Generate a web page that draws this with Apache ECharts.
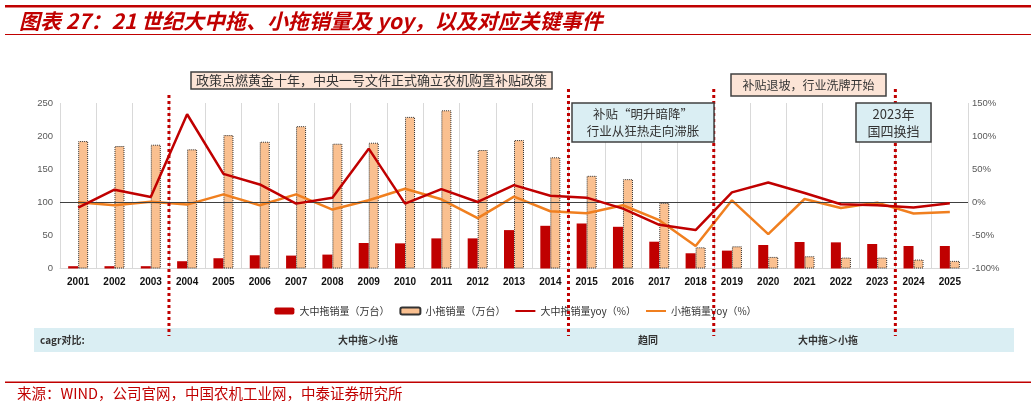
<!DOCTYPE html>
<html><head><meta charset="utf-8">
<script src="https://cdn.jsdelivr.net/npm/echarts@6/dist/echarts.min.js"></script>
<style>html,body{margin:0;padding:0;background:#fff}#c{width:1031px;height:405px}</style>
</head><body><div id="c"></div>
<script>
const years = ['2001','2002','2003','2004','2005','2006','2007','2008','2009','2010','2011','2012','2013','2014','2015','2016','2017','2018','2019','2020','2021','2022','2023','2024','2025'];
const bigSales = [3.5,3.5,3.5,11,15.5,20,19.5,21,38.5,38,45.5,45.5,58,64.5,68,63,40.5,23,27,35.5,40,39.5,37,34,34];
const smallSales = [192.5,185,187,180,201.5,191.5,215,188.5,190,229,239,179,194,168,140,135,99,32,33.5,17.5,18.5,16.5,16.5,13.5,11.5];
const bigYoy = [-8,19,8,133,43,27,-2,7,81,-2,20,0.5,26,10,7,-9.5,-34,-42,15,30,14,-3,-4.5,-8,-1.5];
const smallYoy = [0,-4.5,1,-3.5,12,-4.5,12,-11,3,20.5,4.5,-24,8.5,-13.5,-16.5,-4.5,-27,-66,3,-48,5,-8.5,-0.5,-17,-14.5];
const leftTicks = {min:0, max:250, interval:50};
const rightTicks = {min:-100, max:150, interval:50};
const eventBefore = ['2004','2015','2019','2024'];
const names = ['大中拖销量（万台）','小拖销量（万台）','大中拖销量yoy（%）','小拖销量yoy（%）'];
const titleText = '图表 27：21 世纪大中拖、小拖销量及 yoy，以及对应关键事件';
const sourceText = '来源：WIND，公司官网，中国农机工业网，中泰证券研究所';

const RED = '#C00000', ORANGE = '#F07F1F', PEACH = '#FAC090';
const CJK = "'Noto Sans CJK SC', 'Liberation Sans', sans-serif";
const LINE_ICON = 'path://M0,0L0.01,0L0,0.01Z M0,2.6H20V4.4H0Z M20,7L19.99,7L20,6.99Z';
const chart = echarts.init(document.getElementById('c'));
chart.setOption({
  animation: false,
  textStyle: {fontFamily: CJK},
  grid: {left: 60, right: 63, top: 103, bottom: 136.5},
  legend: {
    left: 'center', top: 301, itemWidth: 20, itemHeight: 7, itemGap: 10,
    textStyle: {fontSize: 10, color: '#333', fontFamily: CJK},
    data: [
      {name: names[0]},
      {name: names[1]},
      {name: names[2], icon: LINE_ICON, itemStyle: {color: RED, borderWidth: 0}},
      {name: names[3], icon: LINE_ICON, itemStyle: {color: ORANGE, borderWidth: 0}}
    ]
  },
  xAxis: {
    type: 'category', data: years,
    axisTick: {show: false},
    axisLine: {lineStyle: {color: '#D9D9D9'}},
    splitLine: {show: true, lineStyle: {color: '#D9D9D9', width: 1}},
    axisLabel: {fontSize: 10, fontWeight: 'bold', color: '#111', margin: 9, fontFamily: "'Liberation Sans', sans-serif"}
  },
  yAxis: [
    {type: 'value', min: leftTicks.min, max: leftTicks.max, interval: leftTicks.interval,
     axisLine: {show: false}, axisTick: {show: false}, splitLine: {show: false},
     axisLabel: {fontSize: 9.5, color: '#595959', margin: 7, fontFamily: "'Liberation Sans', sans-serif"}},
    {type: 'value', min: rightTicks.min, max: rightTicks.max, interval: rightTicks.interval,
     axisLine: {show: false}, axisTick: {show: false}, splitLine: {show: false},
     axisLabel: {fontSize: 9.5, color: '#595959', margin: 4, formatter: '{value}%', fontFamily: "'Liberation Sans', sans-serif"}}
  ],
  series: [
    {name: names[0], type: 'bar', data: bigSales, barWidth: 10, barGap: '0%', itemStyle: {color: RED}},
    {name: names[1], type: 'bar', data: smallSales, barWidth: 10, barGap: '0%',
     itemStyle: {color: PEACH, borderColor: '#333', borderWidth: 1, borderType: 'dotted'}},
    {name: names[2], type: 'line', yAxisIndex: 1, data: bigYoy, symbol: 'none', z: 5,
     lineStyle: {color: RED, width: 2.5}, itemStyle: {color: RED}},
    {name: names[3], type: 'line', yAxisIndex: 1, data: smallYoy, symbol: 'none', z: 4,
     lineStyle: {color: ORANGE, width: 2.5}, itemStyle: {color: ORANGE},
     markLine: {silent: true, symbol: 'none', label: {show: false},
       lineStyle: {color: '#404040', width: 1.2, type: 'solid'}, data: [{yAxis: 0}]}}
  ]
});

const px = y => chart.convertToPixel({xAxisIndex: 0}, y);
const g = [];
// header & footer rules
g.push({type: 'rect', shape: {x: 5, y: 5, width: 1026, height: 2.5}, style: {fill: RED}});
g.push({type: 'rect', shape: {x: 5, y: 34, width: 1026, height: 1}, style: {fill: RED}});
g.push({type: 'text', x: 19, y: 21.5, style: {text: titleText, fill: RED, font: "italic bold 21px " + CJK, verticalAlign: 'middle'}});
g.push({type: 'rect', shape: {x: 5, y: 381.5, width: 1026, height: 1.5}, style: {fill: RED}});
g.push({type: 'text', x: 17, y: 393, style: {text: sourceText, fill: RED, font: "14.5px " + CJK, verticalAlign: 'middle'}});
// cagr band
g.push({type: 'rect', shape: {x: 34, y: 328, width: 980, height: 24}, style: {fill: '#DAEEF3'}});
g.push({type: 'text', x: 40, y: 340, style: {text: 'cagr对比:', fill: '#333', font: "bold 10px " + CJK, verticalAlign: 'middle'}});
[['大中拖＞小拖', 368], ['趋同', 648], ['大中拖＞小拖', 828]].forEach(([t, x]) => {
  g.push({type: 'text', x: x, y: 340, style: {text: t, fill: '#333', font: "bold 10px " + CJK, align: 'center', verticalAlign: 'middle'}});
});
// event dotted lines
eventBefore.forEach((y, k) => {
  const i = years.indexOf(y);
  const x = (px(years[i - 1]) + px(years[i])) / 2;
  const top = k === 0 ? 95 : 89;
  g.push({type: 'line', z: 50, shape: {x1: x, y1: top, x2: x, y2: 336},
    style: {stroke: RED, lineWidth: 3, lineDash: [3, 3]}});
});
// annotation boxes
function box(x, y, w, h, fill, lines, font) {
  g.push({type: 'rect', z: 60, shape: {x: x, y: y, width: w, height: h},
    style: {fill: fill, stroke: '#404040', lineWidth: 1.5}});
  const lh = 17;
  const y0 = y + h / 2 - (lines.length - 1) * lh / 2;
  lines.forEach((t, j) => g.push({type: 'text', z: 61, x: x + w / 2, y: y0 + j * lh,
    style: {text: t, fill: '#333', font: font, align: 'center', verticalAlign: 'middle'}}));
}
box(191, 72, 361, 17, '#FCE4D6', ['政策点燃黄金十年，中央一号文件正式确立农机购置补贴政策'], "13px " + CJK);
box(731, 74, 155, 22, '#FCE4D6', ['补贴退坡，行业洗牌开始'], "12px " + CJK);
box(572, 103, 142, 39, '#DAEEF3', ['补贴“明升暗降”', '行业从狂热走向滞胀'], "12.5px " + CJK);
box(856, 103, 75, 39, '#DAEEF3', ['2023年', '国四换挡'], "13px " + CJK);
chart.setOption({graphic: g});
</script></body></html>
